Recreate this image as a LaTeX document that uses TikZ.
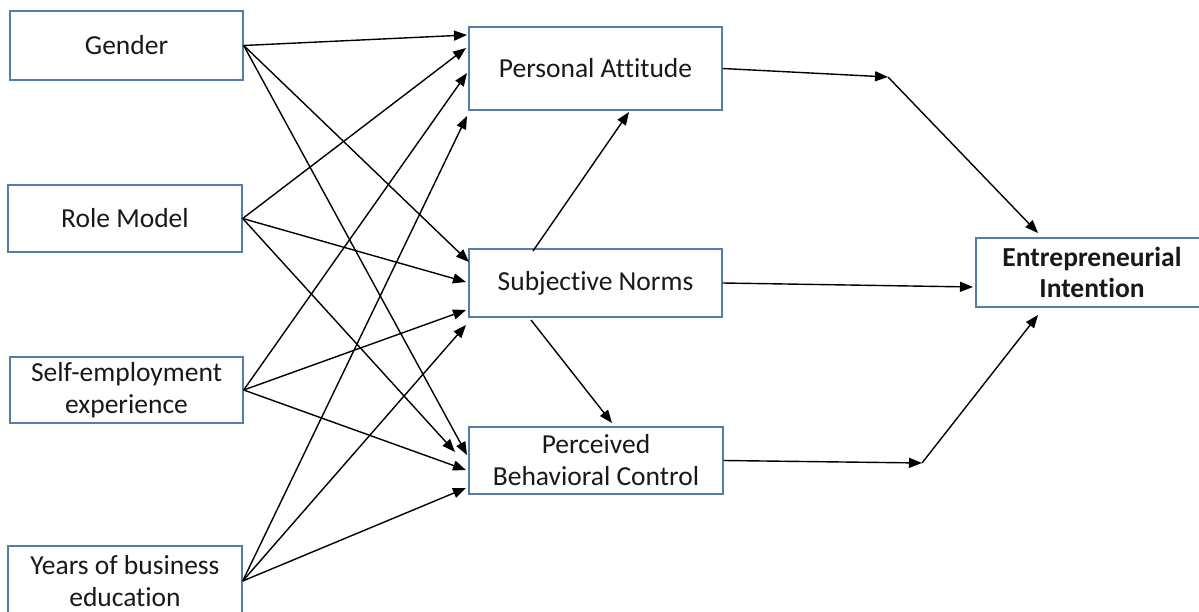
\documentclass[tikz,border=0pt]{standalone}
\usepackage{fontspec}
\setmainfont{Carlito}[Ligatures=NoCommon]
\usetikzlibrary{arrows.meta,calc}
\definecolor{boxblue}{RGB}{84,124,172}
\definecolor{txt}{RGB}{25,25,25}
\begin{document}
\begin{tikzpicture}[x=1pt,y=-1pt,
  box/.style={draw=boxblue,line width=1.4pt,rectangle,inner sep=0pt,align=center,
    text=txt,font=\fontsize{27.5}{32}\selectfont},
  arr/.style={line width=1.4pt,-{Triangle[length=13pt,width=10pt]}}]
\useasboundingbox (0,0) rectangle (1199,612);
\clip (0,0) rectangle (1199,612);
\fill[white] (0,0) rectangle (1199,612);
% left boxes
\node[box,minimum width=233pt,minimum height=69pt] (g) at (126.5,45.5) {Gender};
\node[box,minimum width=234pt,minimum height=67pt] (r) at (125,218.5) {Role Model};
\node[box,minimum width=233pt,minimum height=66pt] (s) at (126.5,390) {Self-employment\\experience};
\node[box,minimum width=234pt,minimum height=70pt] (y) at (125,581) {Years of business\\education};
% middle boxes
\node[box,minimum width=253pt,minimum height=83pt] (pa) at (595.5,68.5) {Personal Attitude};
\node[box,minimum width=253pt,minimum height=68pt] (sn) at (595.5,283) {Subjective Norms};
\node[box,minimum width=254pt,minimum height=67pt] (pbc) at (596,460.5) {Perceived\\Behavioral Control};
% right box
\node[box,minimum width=232pt,minimum height=69pt,font=\fontsize{27.5}{31}\selectfont\bfseries] (ei) at (1092,272.5) {Entrepreneurial\\Intention};
% arrow target points
\coordinate (pa1) at (467,35);
\coordinate (pa2) at (466,48);
\coordinate (pa3) at (467,73);
\coordinate (pa4) at (467,116);
\coordinate (sn1) at (469,262);
\coordinate (sn2) at (466,282);
\coordinate (sn3) at (466,310);
\coordinate (sn4) at (466,325);
\coordinate (pb1) at (467,455);
\coordinate (pb2) at (455,452);
\coordinate (pb3) at (466,470);
\coordinate (pb4) at (466,488);
\coordinate (snt) at (533,251);
\coordinate (pab) at (629,112);
\coordinate (snb) at (531,320);
\coordinate (pbt) at (612,423);
\coordinate (k1) at (888,77);
\coordinate (k2) at (922,463);
\coordinate (ei1) at (1038,233);
\coordinate (ei2) at (973,287);
\coordinate (ei3) at (1038,315);
% left to middle
\draw[arr] (g.east) -- (pa1);
\draw[arr] (g.east) -- (sn1);
\draw[arr] (g.east) -- (pb1);
\draw[arr] (r.east) -- (pa2);
\draw[arr] (r.east) -- (sn2);
\draw[arr] (r.east) -- (pb2);
\draw[arr] (s.east) -- (pa3);
\draw[arr] (s.east) -- (sn3);
\draw[arr] (s.east) -- (pb3);
\draw[arr] (y.east) -- (pa4);
\draw[arr] (y.east) -- (sn4);
\draw[arr] (y.east) -- (pb4);
% between middle boxes
\draw[arr] (snt) -- (pab);
\draw[arr] (snb) -- (pbt);
% to intention
\draw[arr] (pa.east) -- (k1);
\draw[arr] (k1) -- (ei1);
\draw[arr] (sn.east) -- (ei2);
\draw[arr] (pbc.east) -- (k2);
\draw[arr] (k2) -- (ei3);
\end{tikzpicture}
\end{document}
